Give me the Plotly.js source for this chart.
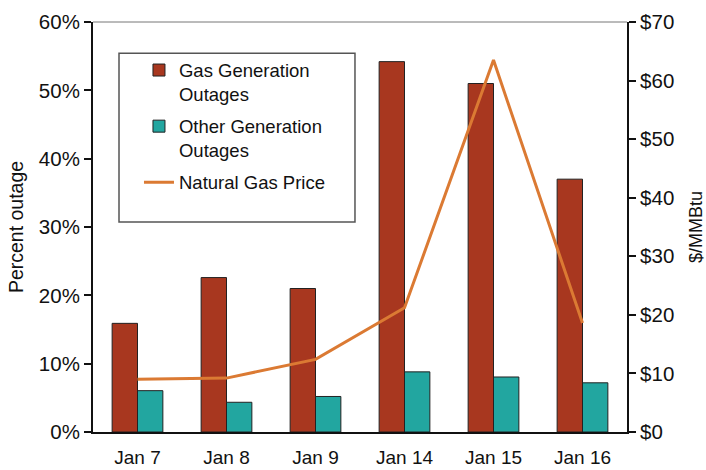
<!DOCTYPE html>
<html>
<head>
<meta charset="utf-8">
<script src="https://cdn.plot.ly/plotly-3.0.1.min.js"></script>
<style>body{margin:0;padding:0;background:#fff;} #chart{width:706px;height:470px;}</style>
</head>
<body>
<div id="chart"></div>
<script>
const categories = ['Jan 7', 'Jan 8', 'Jan 9', 'Jan 14', 'Jan 15', 'Jan 16'];
const gasOutages = [15.9, 22.6, 21.0, 54.2, 51.0, 37.0];
const otherOutages = [6.05, 4.35, 5.2, 8.8, 8.05, 7.2];
const gasPrice = [9.0, 9.2, 12.4, 21.2, 63.5, 18.6];
const xBoundaries = [-0.5, 0.5, 1.5, 2.5, 3.5, 4.5, 5.5];

const FONT = 'Liberation Sans, Arial, sans-serif';

const traces = [
  {type: 'bar', name: 'Gas Generation<br>Outages', x: categories, y: gasOutages, legendgroup: 'g1',
   marker: {color: '#A8371F', line: {color: '#222', width: 1}}, xaxis: 'x', yaxis: 'y'},
  {type: 'bar', name: 'Other Generation<br>Outages', x: categories, y: otherOutages, legendgroup: 'g2',
   marker: {color: '#22A6A0', line: {color: '#222', width: 1}}, xaxis: 'x', yaxis: 'y'},
  {type: 'scatter', mode: 'lines', name: 'Natural Gas Price', x: categories, y: gasPrice, legendgroup: 'g3',
   line: {color: '#DB7A33', width: 3}, xaxis: 'x', yaxis: 'y2'}
];

const crossTick = {ticklen: 6, tickwidth: 2, tickcolor: '#111', showticklabels: false,
                   showline: false, showgrid: false, zeroline: false};

const layout = {
  width: 706, height: 470,
  margin: {l: 93, r: 79, t: 22, b: 38},
  paper_bgcolor: '#fff', plot_bgcolor: '#fff',
  font: {family: FONT, color: '#111', size: 19},
  barmode: 'group', bargap: 0.43, bargroupgap: 0,
  showlegend: true,
  legend: {x: 0.0861, y: 0.928, xanchor: 'left', yanchor: 'top',
           borderwidth: 0, bgcolor: 'rgba(0,0,0,0)', valign: 'top',
           font: {family: FONT, size: 18.5, color: '#111'},
           tracegroupgap: 5, itemwidth: 30},
  xaxis: {type: 'category', categoryarray: categories, range: [-0.5, 5.5],
          showline: true, linecolor: '#111', linewidth: 2,
          ticks: '', showgrid: false, zeroline: false, ticklabelstandoff: 7,
          tickfont: {family: FONT, size: 19, color: '#111'}},
  xaxis2: Object.assign({overlaying: 'x', anchor: 'y', side: 'bottom', range: [-0.5, 5.5],
           tickmode: 'array', tickvals: xBoundaries, ticks: 'outside'}, crossTick),
  xaxis3: Object.assign({overlaying: 'x', anchor: 'y', side: 'bottom', range: [-0.5, 5.5],
           tickmode: 'array', tickvals: xBoundaries, ticks: 'inside'}, crossTick),
  yaxis: {range: [0, 60], dtick: 10, ticksuffix: '%',
          showline: true, linecolor: '#111', linewidth: 2,
          ticks: 'outside', ticklen: 7, tickwidth: 2, tickcolor: '#111',
          showgrid: false, zeroline: false,
          tickfont: {family: FONT, size: 20.5, color: '#111'},
          title: {text: 'Percent outage', font: {family: FONT, size: 19.5, color: '#111'}, standoff: 10}},
  yaxis2: {range: [0, 70], dtick: 10, tickprefix: '$', overlaying: 'y', side: 'right',
           showline: true, linecolor: '#111', linewidth: 2,
           ticks: 'outside', ticklen: 7, tickwidth: 2, tickcolor: '#111',
           showgrid: false, zeroline: false,
           tickfont: {family: FONT, size: 20.5, color: '#111'},
           title: {text: '$/MMBtu', font: {family: FONT, size: 18, color: '#111'}, standoff: 19}},
  yaxis3: Object.assign({range: [0, 60], dtick: 10, overlaying: 'y', side: 'left', anchor: 'x',
           ticks: 'inside'}, crossTick, {ticklen: 7}),
  yaxis4: Object.assign({range: [0, 70], dtick: 10, overlaying: 'y', side: 'right', anchor: 'x',
           ticks: 'inside'}, crossTick, {ticklen: 7}),
  shapes: [
    {type: 'line', xref: 'paper', yref: 'paper', x0: 0, x1: 1, y0: 1, y1: 1,
     line: {color: '#777', width: 1}},
    {type: 'rect', xref: 'paper', yref: 'paper', x0: 0.0487, x1: 0.4906, y0: 0.512, y1: 0.924,
     line: {color: '#555', width: 1.5}, fillcolor: 'rgba(0,0,0,0)', layer: 'above'}
  ]
};

Plotly.newPlot('chart', traces, layout, {displayModeBar: false, staticPlot: true});
</script>
</body>
</html>
